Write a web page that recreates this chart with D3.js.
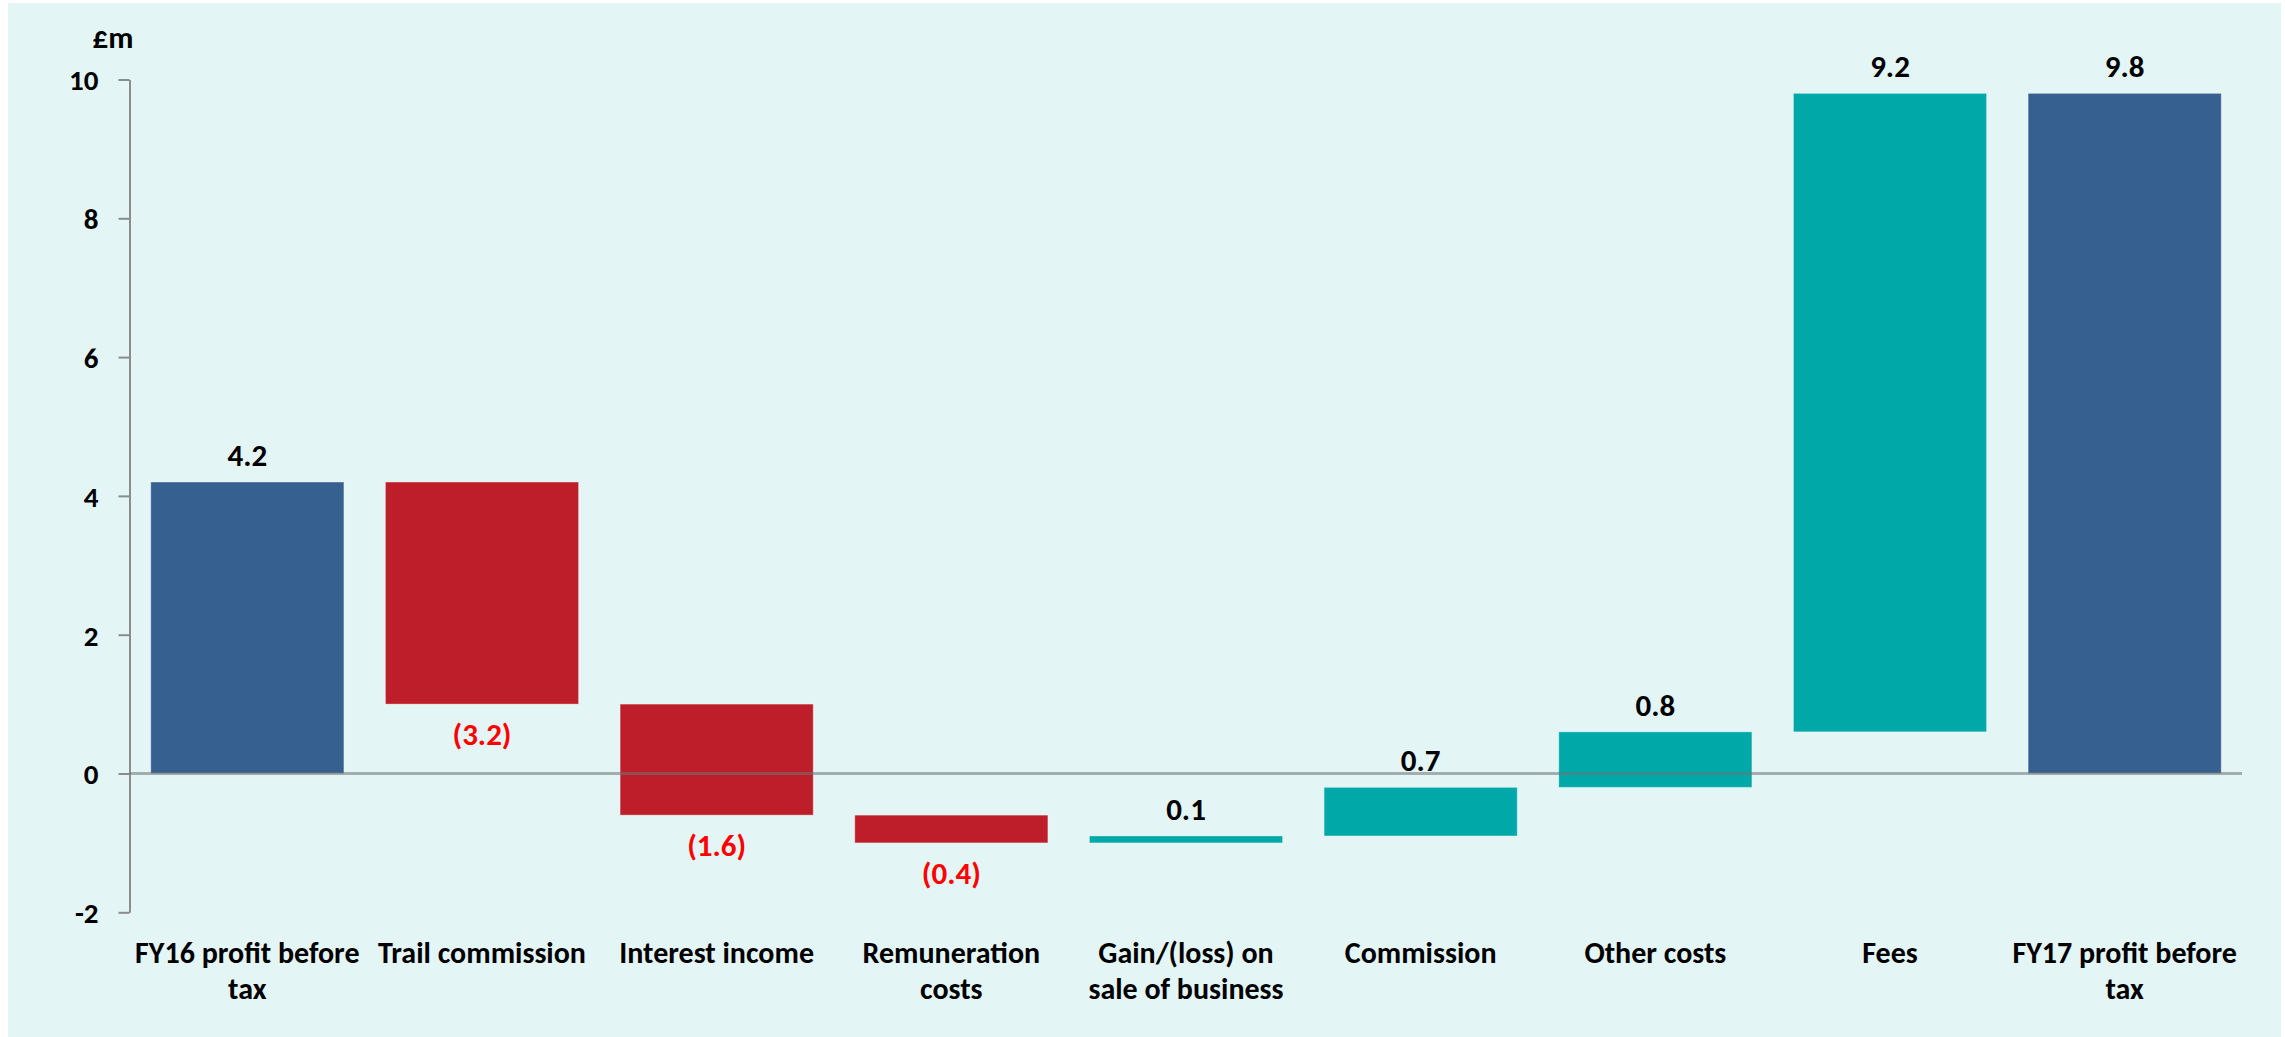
<!DOCTYPE html>
<html>
<head>
<meta charset="utf-8">
<script src="https://cdn.jsdelivr.net/npm/d3@7"></script>
<style>
  html, body { margin: 0; padding: 0; background: #ffffff; }
  svg { display: block; }
  text { font-family: Carlito, Calibri, Lato, "Open Sans", sans-serif; font-weight: 700; }
</style>
</head>
<body>
<svg id="chart" width="2285" height="1037"></svg>
<script>
// Profit bridge, FY16 to FY17 (£m)
const categories = [
  "FY16 profit before\ntax",
  "Trail commission",
  "Interest income",
  "Remuneration\ncosts",
  "Gain/(loss) on\nsale of business",
  "Commission",
  "Other costs",
  "Fees",
  "FY17 profit before\ntax"
];
// Movements between the two totals; first and last entries are totals
const changes = [4.2, -3.2, -1.6, -0.4, 0.1, 0.7, 0.8, 9.2, 9.8];
const kinds = ["total", "step", "step", "step", "step", "step", "step", "step", "total"];
const yTicks = [-2, 0, 2, 4, 6, 8, 10];
const unitLabel = "£m";

const colors = { total: "#36608F", up: "#00A8A8", down: "#BE1E2A", negText: "#FF0000" };

// Build floating segments of the waterfall
let running = 0;
const bars = changes.map((v, i) => {
  let y0, y1;
  if (kinds[i] === "total") {
    y0 = 0; y1 = v; running = v;
  } else {
    y0 = running; y1 = running + v; running = y1;
  }
  return {
    cat: categories[i], value: v, kind: kinds[i],
    lo: Math.min(y0, y1), hi: Math.max(y0, y1)
  };
});

const svg = d3.select("#chart");
const W = 2285, H = 1037;

svg.append("rect").attr("x", 8).attr("y", 3).attr("width", W - 12).attr("height", H - 3)
  .attr("fill", "#E3F5F5");

const x = d3.scaleBand().domain(categories).range([130, 2242]).paddingInner(0.177).paddingOuter(0.0885);
const y = d3.scaleLinear().domain([-2, 10]).range([912.3, 79.5]);

// Bars
svg.append("g").selectAll("rect").data(bars).join("rect")
  .attr("x", d => x(d.cat))
  .attr("width", x.bandwidth())
  .attr("y", d => y(d.hi))
  .attr("height", d => y(d.lo) - y(d.hi))
  .attr("fill", d => d.kind === "total" ? colors.total : (d.value >= 0 ? colors.up : colors.down))
  .attr("stroke", "rgba(255,255,255,0.35)")
  .attr("stroke-width", 1);

// Y axis (plain hyphen for negatives)
const yAxis = d3.axisLeft(y).tickValues(yTicks).tickFormat(d => String(d))
  .tickSize(11).tickSizeOuter(0).tickPadding(20);
const gy = svg.append("g").attr("transform", "translate(129.5,0)").call(yAxis);
gy.select(".domain").attr("stroke", "#8C8C8C").attr("stroke-width", 2);
gy.selectAll(".tick line").attr("stroke", "#8C8C8C").attr("stroke-width", 2);
gy.selectAll(".tick text").attr("font-size", 29).attr("fill", "#000")
  .attr("font-family", "Carlito, Calibri, Lato, sans-serif").attr("font-weight", 700)
  .attr("dy", "0.36em");

// Zero baseline across the plot, over the bars
svg.append("line")
  .attr("x1", 129.5).attr("x2", 2242)
  .attr("y1", y(0)).attr("y2", y(0))
  .attr("stroke", "#6E7373").attr("stroke-opacity", 0.55).attr("stroke-width", 3);

// Unit label
svg.append("text").attr("x", 113).attr("y", 48).attr("text-anchor", "middle")
  .attr("font-size", 31).attr("fill", "#000").text(unitLabel);

// Value labels
const fmt = d3.format(".1f");
svg.append("g").selectAll("text").data(bars).join("text")
  .attr("x", d => x(d.cat) + x.bandwidth() / 2)
  .attr("y", d => d.value >= 0 ? y(d.hi) - 16 : y(d.lo) + 41)
  .attr("text-anchor", "middle")
  .attr("font-size", 31)
  .attr("fill", d => d.value >= 0 ? "#000" : colors.negText)
  .text(d => d.value >= 0 ? fmt(d.value) : "(" + fmt(-d.value) + ")");

// Category labels (two lines where needed)
const catG = svg.append("g").selectAll("text").data(bars).join("text")
  .attr("x", d => x(d.cat) + x.bandwidth() / 2)
  .attr("y", 963)
  .attr("text-anchor", "middle")
  .attr("font-size", 30)
  .attr("fill", "#000");
catG.selectAll("tspan").data(d => d.cat.split("\n")).join("tspan")
  .attr("x", function() { return d3.select(this.parentNode).attr("x"); })
  .attr("dy", (d, i) => i === 0 ? 0 : 36)
  .text(d => d);
</script>
</body>
</html>
